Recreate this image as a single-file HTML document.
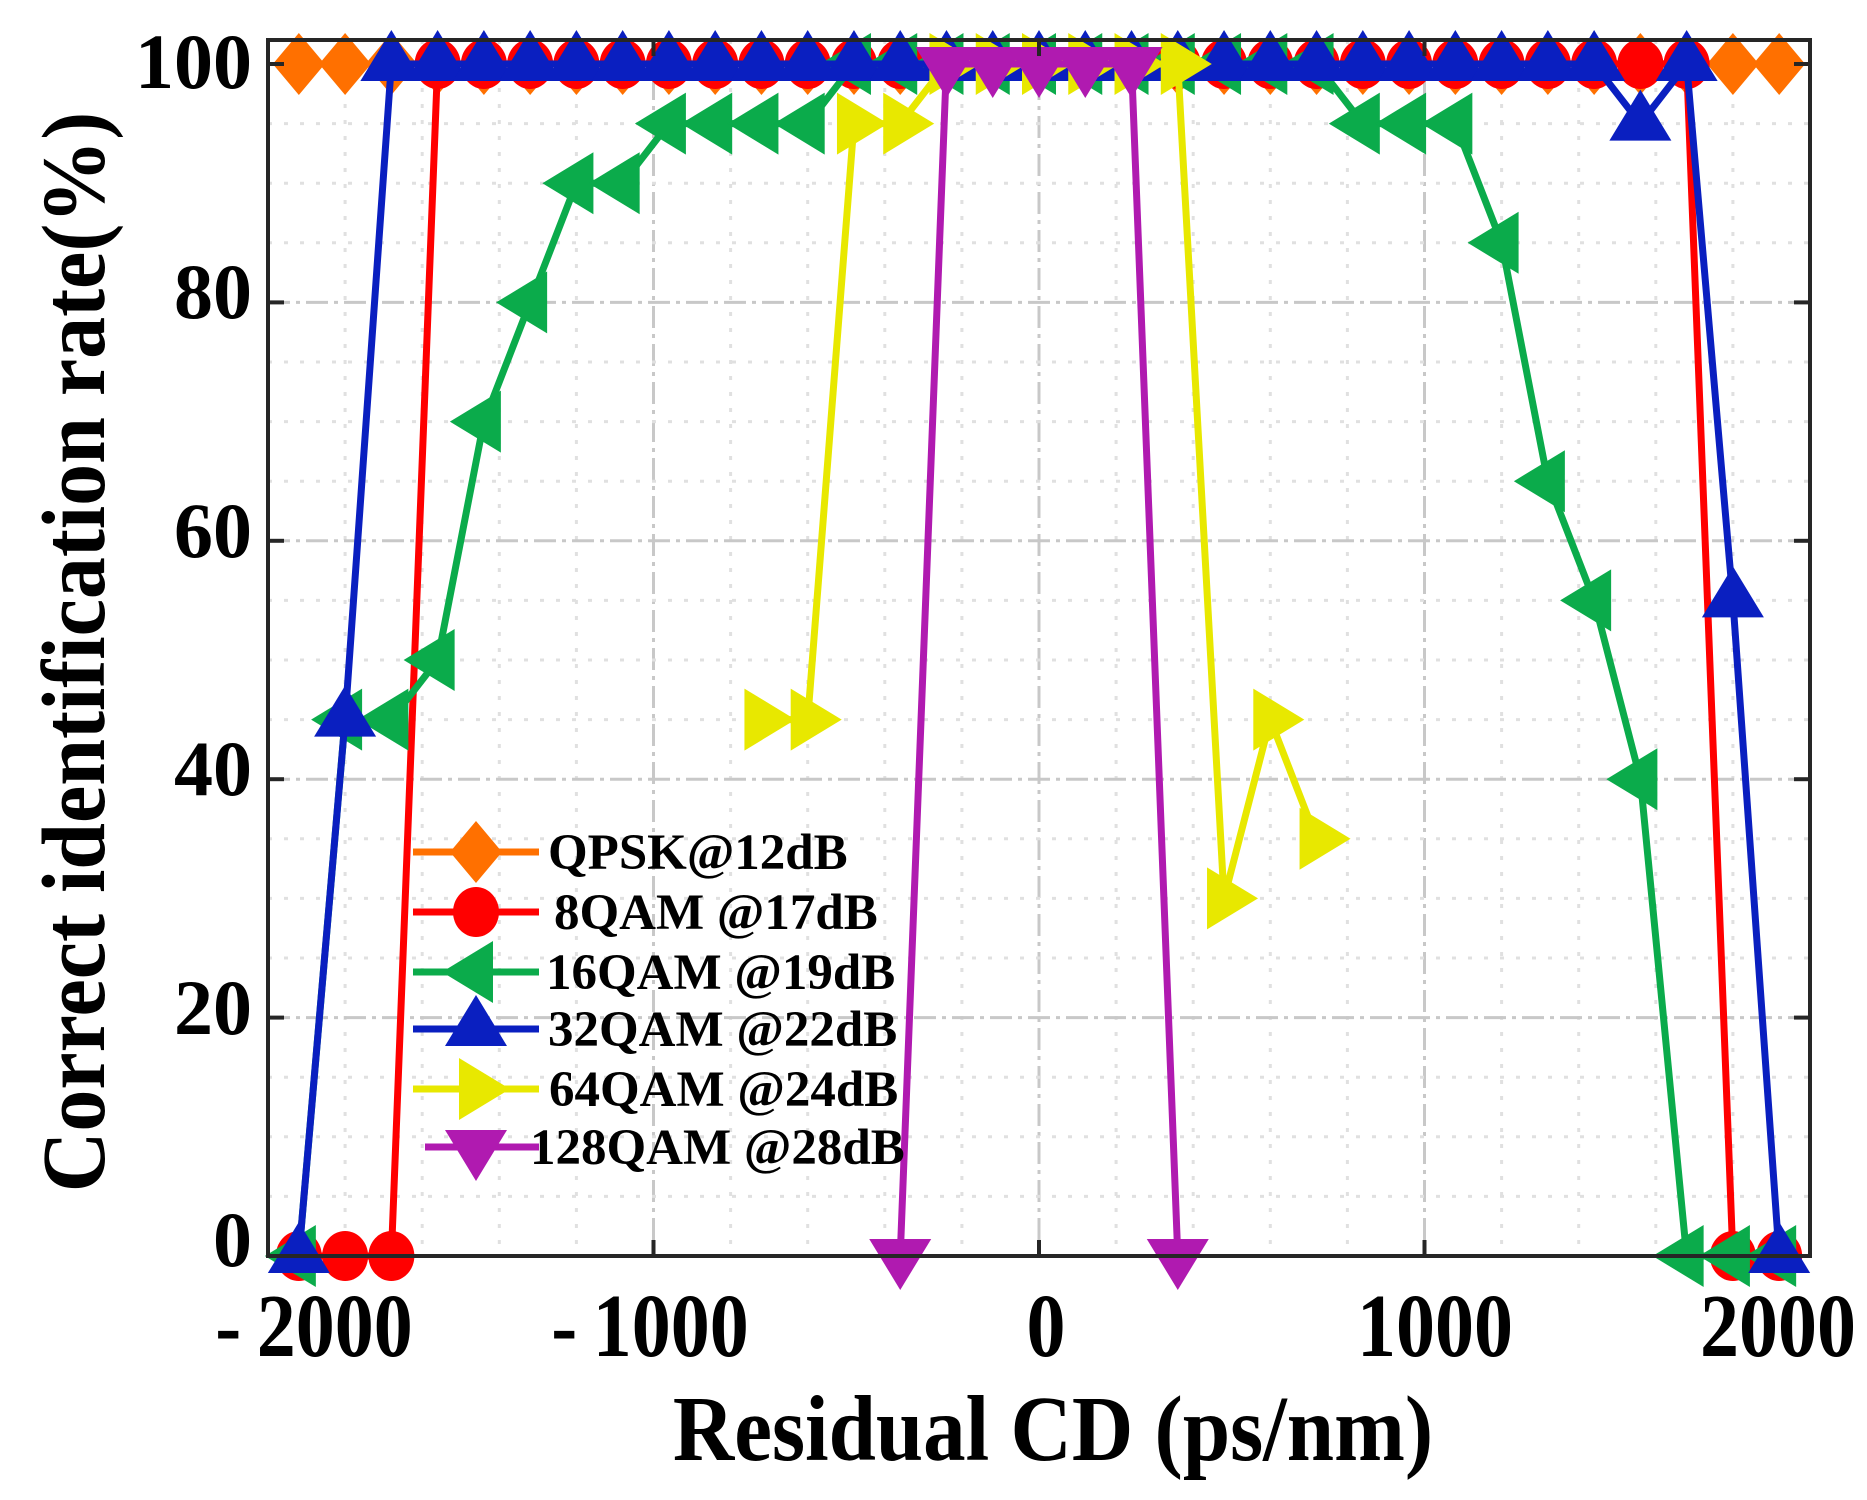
<!DOCTYPE html>
<html><head><meta charset="utf-8"><style>
html,body{margin:0;padding:0;background:#fff;}
svg{display:block;}
text{font-family:"Liberation Serif",serif;font-weight:bold;fill:#000;}
</style></head><body>
<svg id="s" width="1867" height="1500" viewBox="0 0 1867 1500" xmlns="http://www.w3.org/2000/svg">
<rect width="1867" height="1500" fill="#fff"/>
<g id="grid"></g>
<g id="series"></g>
<rect x="268" y="40" width="1542" height="1216" fill="none" stroke="#262626" stroke-width="4"/>
<g id="ticks"></g>
<g font-size="78" text-anchor="end">
<text x="252" y="1266">0</text>
<text x="252" y="1034">20</text>
<text x="252" y="795">40</text>
<text x="252" y="557">60</text>
<text x="252" y="318">80</text>
<text x="252" y="88">100</text>
</g>
<g font-size="78" text-anchor="middle">
<text transform="translate(314,1356) scale(1,1.15)">-&#8201;2000</text>
<text transform="translate(650,1356) scale(1,1.15)">-&#8201;1000</text>
<text transform="translate(1046,1356) scale(1,1.15)">0</text>
<text transform="translate(1435,1356) scale(1,1.15)">1000</text>
<text transform="translate(1778,1356) scale(1,1.15)">2000</text>
</g>
<text transform="translate(1053,1460) scale(1,1.1)" font-size="85" text-anchor="middle">Residual CD (ps/nm)</text>
<text transform="translate(104,652) rotate(-90) scale(1,1.07)" font-size="84" text-anchor="middle">Correct identification rate(%)</text>
<g id="legend" font-size="51">
<text x="548" y="869">QPSK@12dB</text>
<text x="554" y="929">8QAM @17dB</text>
<text x="546" y="989">16QAM @19dB</text>
<text x="548" y="1046">32QAM @22dB</text>
<text x="549" y="1106">64QAM @24dB</text>
<text x="530" y="1164">128QAM @28dB</text>
</g>
</svg>
<script>
var NS="http://www.w3.org/2000/svg";
function X(v){return 1039+v*0.3855;}
function Y(v){return 1256-v*11.92;}
function el(p,t,a){var e=document.createElementNS(NS,t);for(var k in a)e.setAttribute(k,a[k]);p.appendChild(e);return e;}
var g=document.getElementById('grid'),tk=document.getElementById('ticks');
for(var v=-2000;v<=2000;v+=200){var x=X(v);var maj=(v%1000===0);
 if(v>-2000&&v<2000) el(g,'line',{x1:x,x2:x,y1:40,y2:1256,stroke:maj?'#c8c8c8':'#e0e0e0','stroke-width':3,'stroke-dasharray':maj?'22 6 4 6':'4 12'});
 if(maj){el(tk,'line',{x1:x,x2:x,y1:1256,y2:1240,stroke:'#262626','stroke-width':4});el(tk,'line',{x1:x,x2:x,y1:40,y2:56,stroke:'#262626','stroke-width':4});}}
for(var v=0;v<=100;v+=5){var y=Y(v);var maj=(v%20===0);
 if(v>0) el(g,'line',{x1:268,x2:1810,y1:y,y2:y,stroke:maj?'#c8c8c8':'#e0e0e0','stroke-width':3,'stroke-dasharray':maj?'22 6 4 6':'4 12'});
 if(maj){el(tk,'line',{x1:268,x2:284,y1:y,y2:y,stroke:'#262626','stroke-width':4});el(tk,'line',{x1:1810,x2:1794,y1:y,y2:y,stroke:'#262626','stroke-width':4});}}
function mk(p,type,x,y,c){
 if(type=='d')el(p,'polygon',{points:[x,y-31,x+26,y,x,y+31,x-26,y].join(','),fill:c});
 else if(type=='o')el(p,'ellipse',{cx:x,cy:y,rx:23,ry:25,fill:c});
 else if(type=='u')el(p,'polygon',{points:[x,y-34,x+31,y+17,x-31,y+17].join(','),fill:c});
 else if(type=='v')el(p,'polygon',{points:[x,y+34,x+31,y-17,x-31,y-17].join(','),fill:c});
 else if(type=='l')el(p,'polygon',{points:[x-34,y,x+17,y-31,x+17,y+31].join(','),fill:c});
 else if(type=='r')el(p,'polygon',{points:[x+34,y,x-17,y-31,x-17,y+31].join(','),fill:c});
}
function arr(n,f){var a=[];for(var i=0;i<33;i++)a.push(f(i));return a;}
var S=[
 {c:'#ff7000',m:'d',d:arr(33,function(){return 100;})},
 {c:'#ff0000',m:'o',d:arr(33,function(i){return (i<3||i>30)?0:100;})},
 {c:'#0bab4b',m:'l',d:[0,45,45,50,70,80,90,90,95,95,95,95,100,100,100,100,100,100,100,100,100,100,100,95,95,95,85,65,55,40,0,0,0]},
 {c:'#0a1fc0',m:'u',d:arr(33,function(i){if(i==0)return 0;if(i==1)return 45;if(i==29)return 95;if(i==31)return 55;if(i==32)return 0;return 100;})},
 {c:'#e8e800',m:'r',d:arr(33,function(i){var m={10:45,11:45,12:95,13:95,20:30,21:45,22:35};if(m[i]!==undefined)return m[i];return (i>=14&&i<=19)?100:null;})},
 {c:'#b01ab0',m:'v',d:arr(33,function(i){if(i==13||i==19)return 0;return (i>=14&&i<=18)?100:null;})}
];
var sg=document.getElementById('series');
S.forEach(function(s){var g2=el(sg,'g',{});var pts=[];
 s.d.forEach(function(v,i){if(v!==null)pts.push([X(-1920+120*i),Y(v)]);});
 el(g2,'polyline',{points:pts.map(function(p){return p.join(',');}).join(' '),fill:'none',stroke:s.c,'stroke-width':7,'stroke-linejoin':'round'});
 pts.forEach(function(p){mk(g2,s.m,p[0],p[1],s.c);});
});
var L=document.getElementById('legend');var ly=[852,912,972,1029,1089,1147];
S.forEach(function(s,k){var lx1=k==5?425:413;el(L,'line',{x1:lx1,x2:539,y1:ly[k],y2:ly[k],stroke:s.c,'stroke-width':7});mk(L,s.m,476,ly[k],s.c);});
</script>
</body></html>
